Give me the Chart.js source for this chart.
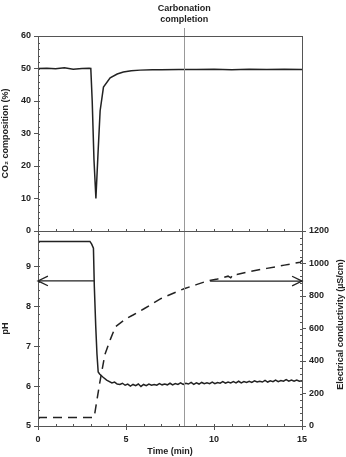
<!DOCTYPE html>
<html>
<head>
<meta charset="utf-8">
<script src="https://cdn.jsdelivr.net/npm/chart.js@4"></script>
<style>
  body { margin: 0; background: #fff; }
  #wrap { position: relative; width: 346px; height: 457px; }
  canvas { position: absolute; left: 0; }
  #topChart { top: 0; }
  #bottomChart { top: 221px; }
</style>
</head>
<body>
<div id="wrap">
  <canvas id="topChart" width="346" height="242"></canvas>
  <canvas id="bottomChart" width="346" height="236"></canvas>
</div>
<script>
// CO2 composition (%) vs time (min)
const co2Time   = [0, 0.5, 1, 1.5, 2, 2.5, 2.9, 3.0, 3.08, 3.18, 3.29, 3.42, 3.53, 3.72, 4.1, 4.5, 4.85, 5.3, 5.8, 6.5, 7, 8, 9, 10, 11, 12, 13, 14, 15];
const co2Values = [50, 50.1, 49.9, 50.2, 49.8, 50, 50.1, 50, 40, 22, 10, 25, 37, 44.3, 47.1, 48.3, 48.9, 49.3, 49.5, 49.6, 49.6, 49.7, 49.7, 49.8, 49.6, 49.8, 49.7, 49.8, 49.7];

// pH vs time (min)
const phTime = [0, 1, 2, 2.95, 3.05, 3.15, 3.2, 3.28, 3.35, 3.42, 3.5, 3.7, 3.9, 4.2, 4.35,
  4.5, 4.65, 4.8, 4.95, 5.1, 5.25, 5.4, 5.55, 5.7, 5.85,
  6.0, 6.15, 6.3, 6.45, 6.6, 6.75, 6.9, 7.05, 7.2, 7.35,
  7.5, 7.65, 7.8, 7.95, 8.1, 8.25, 8.4, 8.55, 8.7, 8.85,
  9.0, 9.15, 9.3, 9.45, 9.6, 9.75, 9.9, 10.05, 10.2, 10.35,
  10.5, 10.65, 10.8, 10.95, 11.1, 11.25, 11.4, 11.55, 11.7, 11.85,
  12.0, 12.15, 12.3, 12.45, 12.6, 12.75, 12.9, 13.05, 13.2, 13.35,
  13.5, 13.65, 13.8, 13.95, 14.1, 14.25, 14.4, 14.55, 14.7, 14.85, 15.0];
const phValues = [9.62, 9.62, 9.62, 9.62, 9.55, 9.45, 8.5, 7.5, 6.8, 6.35, 6.3, 6.22, 6.15, 6.08, 6.1,
  6.05, 6.04, 6.07, 6.02, 6.05, 6.00, 6.04, 6.01, 6.05, 5.99,
  6.04, 6.01, 6.05, 6.02, 6.04, 6.02, 6.06, 6.03, 6.05, 6.03,
  6.07, 6.03, 6.06, 6.04, 6.08, 6.04, 6.07, 6.05, 6.09, 6.04,
  6.08, 6.05, 6.09, 6.06, 6.08, 6.06, 6.10, 6.06, 6.09, 6.07,
  6.11, 6.07, 6.10, 6.08, 6.11, 6.08, 6.12, 6.08, 6.11, 6.09,
  6.12, 6.09, 6.13, 6.10, 6.12, 6.10, 6.14, 6.10, 6.13, 6.11,
  6.15, 6.11, 6.14, 6.12, 6.16, 6.12, 6.15, 6.12, 6.15, 6.12, 6.13];

// electrical conductivity (uS/cm) vs time (min)
const condTime   = [0, 3.15, 3.2, 3.5, 3.8, 4.1, 4.4, 5.0, 5.4, 6, 7, 8.3, 9, 9.66, 10.2, 10.8, 10.95, 11.1, 11.3, 12, 13, 13.55, 14, 14.5, 14.9, 15];
const condValues = [52, 52, 60, 260, 440, 530, 611, 660, 683, 720, 785, 845, 870, 894, 905, 922, 912, 935, 932, 950, 970, 980, 990, 1000, 1008, 1020];

// arrows pointing at the axis each curve belongs to
const phArrow   = [{ x: 3.2, y: 8.63 }, { x: 0, y: 8.63 }];
const condArrow = [{ x: 9.78, y: 892 }, { x: 15, y: 892 }];

const completionTime = 8.31;
const completionLabel = ['Carbonation', 'completion'];

const INK = '#222';
const AXIS = '#555';
Chart.defaults.font.family = '"Liberation Sans", Arial, sans-serif';
Chart.defaults.font.size = 9;
Chart.defaults.font.weight = 'bold';
Chart.defaults.color = INK;

const pts = (xs, ys) => xs.map((x, i) => ({ x: x, y: ys[i] }));

// small inward minor ticks, step taken from scale options
function minorTicks(ctx, chart, id, step) {
  const s = chart.scales[id];
  if (!s) return;
  const a = chart.chartArea;
  ctx.beginPath();
  for (let v = s.min; v <= s.max + 1e-9; v += step) {
    const p = Math.round(s.getPixelForValue(v)) + 0.5;
    if (id === 'x') { ctx.moveTo(p, a.bottom); ctx.lineTo(p, a.bottom - 2); }
    else if (s.position === 'left') { ctx.moveTo(a.left, p); ctx.lineTo(a.left + 2, p); }
    else { ctx.moveTo(a.right, p); ctx.lineTo(a.right - 2, p); }
  }
  ctx.stroke();
}

// chart area box + carbonation marker + arrow heads
const decor = {
  id: 'decor',
  afterDatasetsDraw(chart, args, opts) {
    const ctx = chart.ctx, a = chart.chartArea;
    const xs = chart.scales.x.getPixelForValue(completionTime);
    ctx.save();
    ctx.strokeStyle = '#999';
    ctx.lineWidth = 1;
    ctx.beginPath();
    ctx.moveTo(Math.round(xs) + 0.5, opts.top ? 28 : a.top);
    ctx.lineTo(Math.round(xs) + 0.5, a.bottom);
    ctx.stroke();
    if (opts.top) {
      ctx.fillStyle = INK;
      ctx.font = 'bold 9px "Liberation Sans", Arial, sans-serif';
      ctx.textAlign = 'center';
      ctx.textBaseline = 'middle';
      ctx.fillText(completionLabel[0], xs, 9);
      ctx.fillText(completionLabel[1], xs, 20);
    }
    ctx.strokeStyle = AXIS;
    ctx.strokeRect(a.left + 0.5, a.top + 0.5, a.right - a.left, a.bottom - a.top);
    (opts.minor || []).forEach(m => minorTicks(ctx, chart, m[0], m[1]));
    // arrow heads
    chart.data.datasets.forEach((ds, i) => {
      if (!ds.arrow) return;
      const meta = chart.getDatasetMeta(i);
      const p = meta.data[meta.data.length - 1], q = meta.data[meta.data.length - 2];
      const ang = Math.atan2(p.y - q.y, p.x - q.x);
      ctx.strokeStyle = INK;
      ctx.lineWidth = 1.3;
      ctx.beginPath();
      ctx.moveTo(p.x - 11 * Math.cos(ang - 0.45), p.y - 11 * Math.sin(ang - 0.45));
      ctx.lineTo(p.x, p.y);
      ctx.lineTo(p.x - 11 * Math.cos(ang + 0.45), p.y - 11 * Math.sin(ang + 0.45));
      ctx.stroke();
    });
    if (opts.rightTitle) {
      ctx.fillStyle = INK;
      ctx.font = 'bold 9px "Liberation Sans", Arial, sans-serif';
      ctx.translate(341, (a.top + a.bottom) / 2 - 4);
      ctx.rotate(-Math.PI / 2);
      ctx.textAlign = 'center';
      ctx.textBaseline = 'middle';
      ctx.fillText(opts.rightTitle, 0, 0);
    }
    ctx.restore();
  }
};

const yGrid = { drawOnChartArea: false, tickLength: 4, color: AXIS };
const plain = v => String(v);

new Chart(document.getElementById('topChart'), {
  type: 'line',
  data: {
    datasets: [{
      data: pts(co2Time, co2Values),
      borderColor: INK, borderWidth: 1.5, pointRadius: 0, tension: 0
    }]
  },
  options: {
    responsive: false, animation: false,
    layout: { padding: { top: 36, right: 44, left: 0, bottom: 11 } },
    plugins: { legend: { display: false }, tooltip: { enabled: false },
      decor: { top: true, minor: [['x', 1], ['y', 2]] } },
    scales: {
      x: {
        type: 'linear', min: 0, max: 15,
        ticks: { display: false }, grid: { display: false }, border: { display: false },
        afterFit(s) { s.height = 0; }
      },
      y: {
        min: 0, max: 60,
        ticks: { stepSize: 10, padding: 3, callback: plain },
        grid: yGrid, border: { color: AXIS },
        title: { display: true, text: 'CO₂ composition (%)', padding: 0 },
        afterFit(s) { s.width = 38; }
      }
    }
  },
  plugins: [decor]
});

new Chart(document.getElementById('bottomChart'), {
  type: 'line',
  data: {
    datasets: [
      { data: pts(phTime, phValues), yAxisID: 'y', borderColor: INK, borderWidth: 1.5, pointRadius: 0, tension: 0 },
      { data: pts(condTime, condValues), yAxisID: 'y2', borderColor: INK, borderWidth: 1.5, borderDash: [9, 6], pointRadius: 0, tension: 0 },
      { data: phArrow, yAxisID: 'y', arrow: true, borderColor: INK, borderWidth: 1.3, pointRadius: 0 },
      { data: condArrow, yAxisID: 'y2', arrow: true, borderColor: INK, borderWidth: 1.3, pointRadius: 0 }
    ]
  },
  options: {
    responsive: false, animation: false,
    layout: { padding: { top: 10, right: 0, left: 0, bottom: 0 } },
    plugins: { legend: { display: false }, tooltip: { enabled: false },
      decor: { top: false, rightTitle: 'Electrical conductivity (µS/cm)',
        minor: [['x', 1], ['y', 0.2], ['y2', 40]] } },
    scales: {
      x: {
        type: 'linear', min: 0, max: 15,
        ticks: { stepSize: 5, padding: 4, callback: plain },
        grid: { drawOnChartArea: false, tickLength: 4, color: AXIS }, border: { color: AXIS },
        title: { display: true, text: 'Time (min)', padding: { top: 2, bottom: 0 } },
        afterFit(s) { s.height = 31; }
      },
      y: {
        position: 'left', min: 5, max: 9.88,
        ticks: { stepSize: 1, includeBounds: false, padding: 3, callback: plain },
        grid: yGrid, border: { color: AXIS },
        title: { display: true, text: 'pH', padding: 0 },
        afterFit(s) { s.width = 38; }
      },
      y2: {
        position: 'right', min: 0, max: 1200,
        ticks: { stepSize: 200, padding: 3, callback: plain },
        grid: yGrid, border: { color: AXIS },
        afterFit(s) { s.width = 44; }
      }
    }
  },
  plugins: [decor]
});
</script>
</body>
</html>
